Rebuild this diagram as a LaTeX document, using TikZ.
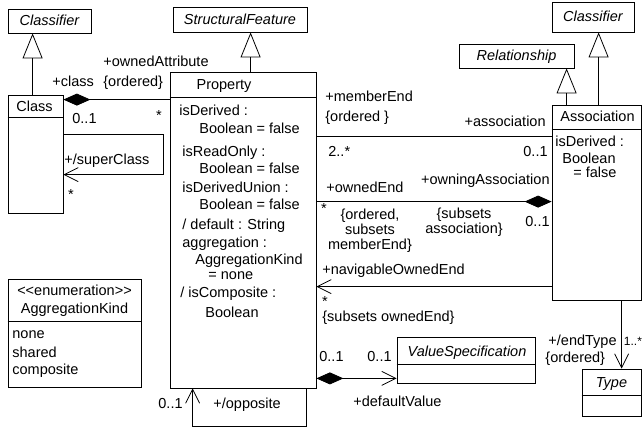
\documentclass[tikz,border=0pt]{standalone}
\usepackage{fontspec}
\setmainfont{Liberation Sans}
\usetikzlibrary{arrows.meta,calc,positioning}

\begin{document}
\begin{tikzpicture}[x=1pt,y=-1pt,line width=0.8pt,
   font=\fontsize{14.5}{15}\selectfont,
   box/.style={draw,inner sep=0pt},
   lbl/.style={inner sep=0pt,text height=10pt,text depth=0pt},
   multi/.style={inner sep=0pt,align=center},
   gen/.style={-{Triangle[open,length=25pt,width=20pt]}},
   comp/.style={{Diamond[length=27pt,width=12pt]}-},
   nav/.style={-{Straight Barb[length=14pt,width=14pt]}},
   compnav/.style={{Diamond[length=27pt,width=12pt]}-{Straight Barb[length=14pt,width=14pt]}}]
   \useasboundingbox (0,0) rectangle (642,427);

   % classes
   \node[box,minimum width=83pt,minimum height=24pt] (clsL) at (49.5,21) {};
   \node[box,minimum width=134pt,minimum height=25pt] (sf) at (240,19.5) {};
   \node[box,minimum width=82pt,minimum height=30pt] (clsR) at (593,17) {};
   \node[box,minimum width=115pt,minimum height=24pt] (rel) at (516.5,56) {};
   \node[box,minimum width=55pt,minimum height=118pt] (cls) at (35.5,154) {};
   \node[box,minimum width=146pt,minimum height=316pt] (prop) at (243,230) {};
   \node[box,minimum width=89pt,minimum height=195pt] (assoc) at (596.5,202.5) {};
   \node[box,minimum width=138pt,minimum height=46pt] (vs) at (466,360) {};
   \node[box,minimum width=59pt,minimum height=47pt] (type) at (611.5,392.5) {};
   \node[box,minimum width=133pt,minimum height=108pt] (aggk) at (74.5,333) {};

   % compartments
   \draw ($(cls.north west)+(0,23)$) -- ($(cls.north east)+(0,23)$);
   \draw ($(prop.north west)+(0,26)$) -- ($(prop.north east)+(0,26)$);
   \draw ($(assoc.north west)+(0,25)$) -- ($(assoc.north east)+(0,25)$);
   \draw ($(vs.north west)+(0,28)$) -- ($(vs.north east)+(0,28)$);
   \draw ($(type.north west)+(0,27)$) -- ($(type.north east)+(0,27)$);
   \draw ($(aggk.north west)+(0,43)$) -- ($(aggk.north east)+(0,43)$);

   % names
   \node[lbl] (clsLname) at (clsL) {\itshape Classifier};
   \node[lbl] (sfname) at (sf) {\itshape StructuralFeature};
   \node[lbl] (clsRname) at (clsR) {\itshape Classifier};
   \node[lbl] (relname) at (rel) {\itshape Relationship};
   \node[lbl] (clsname) at ($(cls.north)+(-1,11.5)$) {Class};
   \node[lbl] (propname) at (224,85) {Property};
   \node[lbl] (assocname) at ($(assoc.north)+(1,12)$) {Association};
   \node[lbl] (vsname) at ($(vs.north)+(1,15)$) {\itshape ValueSpecification};
   \node[lbl] (typename) at ($(type.north)+(0,14)$) {\itshape Type};
   \node[lbl] (aggkst) at (74.5,291) {<{}<enumeration>{}>};
   \node[lbl] (aggkname) at (74.5,308) {AggregationKind};
   \node[lbl,anchor=west] (lit1) at (12,333) {none};
   \node[lbl,anchor=west] (lit2) at (12,352) {shared};
   \node[lbl,anchor=west] (lit3) at (12,369) {composite};

   % attributes
   \node[lbl,anchor=west] (pa1) at (179,111) {isDerived :};
   \node[lbl,anchor=west] (pa2) at (199,129) {Boolean = false};
   \node[lbl,anchor=west] (pa3) at (182,152) {isReadOnly :};
   \node[lbl,anchor=west] (pa4) at (199,169) {Boolean = false};
   \node[lbl,anchor=west] (pa5) at (182,188) {isDerivedUnion :};
   \node[lbl,anchor=west] (pa6) at (199,205) {Boolean = false};
   \node[lbl,anchor=west] (pa7) at (182,225) {/ default : String};
   \node[lbl,anchor=west] (pa8) at (182,243) {aggregation :};
   \node[lbl,anchor=west] (pa9) at (195,260) {AggregationKind};
   \node[lbl,anchor=west] (pa10) at (208,275) {= none};
   \node[lbl,anchor=west] (pa11) at (180,293) {/ isComposite :};
   \node[lbl,anchor=west] (pa12) at (205,313) {Boolean};
   \node[lbl,anchor=west] (aa1) at (555,142) {isDerived :};
   \node[lbl,anchor=west] (aa2) at (562,159) {Boolean};
   \node[lbl,anchor=west] (aa3) at (573,173) {= false};

   % generalizations
   \coordinate (g1) at ($(cls.north west)+(25,0)$);
   \coordinate (g2) at ($(prop.north west)+(81,0)$);
   \coordinate (g3) at ($(assoc.north west)+(15,0)$);
   \coordinate (g4) at ($(assoc.north west)+(47,0)$);
   \draw[gen] (g1) -- (g1 |- clsL.south);
   \draw[gen] (g2) -- (g2 |- sf.south);
   \draw[gen] (g3) -- (g3 |- rel.south);
   \draw[gen] (g4) -- (g4 |- clsR.south);

   % associations
   \coordinate (oa) at ($(cls.north east)+(0,5)$);
   \coordinate (sca) at ($(cls.north east)+(0,40)$);
   \coordinate (scb) at ($(cls.north east)+(0,80)$);
   \coordinate (me) at ($(assoc.north west)+(0,32)$);
   \coordinate (oe) at ($(assoc.north west)+(0,97)$);
   \coordinate (ne) at ($(assoc.north west)+(0,182)$);
   \coordinate (et) at ($(assoc.south west)+(70,0)$);
   \coordinate (dv) at ($(vs.south west)+(0,-5)$);
   \coordinate (opa) at ($(prop.south west)+(137,0)$);
   \coordinate (opb) at ($(prop.south west)+(23,0)$);
   \draw[comp] (oa) -- (oa -| prop.west);
   \draw[nav] (sca) -- ++(100,0) |- (scb);
   \draw (me -| prop.east) -- (me);
   \draw[comp] (oe) -- (oe -| prop.east);
   \draw[nav] (ne) -- (ne -| prop.east);
   \draw[nav] (et) -- (et |- type.north);
   \draw[compnav] (dv -| prop.east) -- (dv);
   \draw[nav] (opa) -- ++(0,38) -| (opb);

   % role labels
   \node[lbl,anchor=west] (oa1) at (103,62) {+ownedAttribute};
   \node[lbl,anchor=west] (oa2) at (103,82) {\{ordered\}};
   \node[lbl,anchor=west] (cl1) at (52,82) {+class};
   \node[lbl,anchor=west] (cl2) at (72,119) {0..1};
   \node[lbl] (cl3) at (159,116) {*};
   \node[lbl,anchor=west] (sc1) at (64,160) {+/superClass};
   \node[lbl] (sc2) at (71,195) {*};
   \node[lbl,anchor=west] (me1) at (325,97) {+memberEnd};
   \node[lbl,anchor=west] (me2) at (325,117) {\{ordered \}};
   \node[lbl,anchor=east] (me3) at (546,122) {+association};
   \node[lbl,anchor=west] (me4) at (328,152) {2..*};
   \node[lbl,anchor=east] (me5) at (548,152) {0..1};
   \node[lbl,anchor=west] (oe1) at (326,188) {+ownedEnd};
   \node[lbl,anchor=east] (oe2) at (550,180) {+owningAssociation};
   \node[lbl] (oe3) at (324,209) {*};
   \node[multi] (oe4) at (370,231) {\{ordered,\\subsets\\memberEnd\}};
   \node[multi] (oe5) at (464,222) {\{subsets\\association\}};
   \node[lbl,anchor=east] (oe6) at (550,222) {0..1};
   \node[lbl,anchor=west] (ne1) at (322,270) {+navigableOwnedEnd};
   \node[lbl] (ne2) at (325,302) {*};
   \node[lbl,anchor=west] (ne3) at (322,317) {\{subsets ownedEnd\}};
   \node[lbl,anchor=west] (dv1) at (319,356) {0..1};
   \node[lbl,anchor=east] (dv2) at (392,356) {0..1};
   \node[lbl,anchor=west] (dv3) at (353,401) {+defaultValue};
   \node[lbl,anchor=east] (et1) at (617,340) {+/endType};
   \node[lbl,anchor=west] (et2) at (545,357) {\{ordered\}};
   \node[lbl,anchor=west,font=\fontsize{12}{13}\selectfont] (et3) at (623.5,340) {1..*};
   \node[lbl,anchor=east] (op1) at (183,403) {0..1};
   \node[lbl,anchor=west] (op2) at (213,403) {+/opposite};
\end{tikzpicture}
\end{document}
